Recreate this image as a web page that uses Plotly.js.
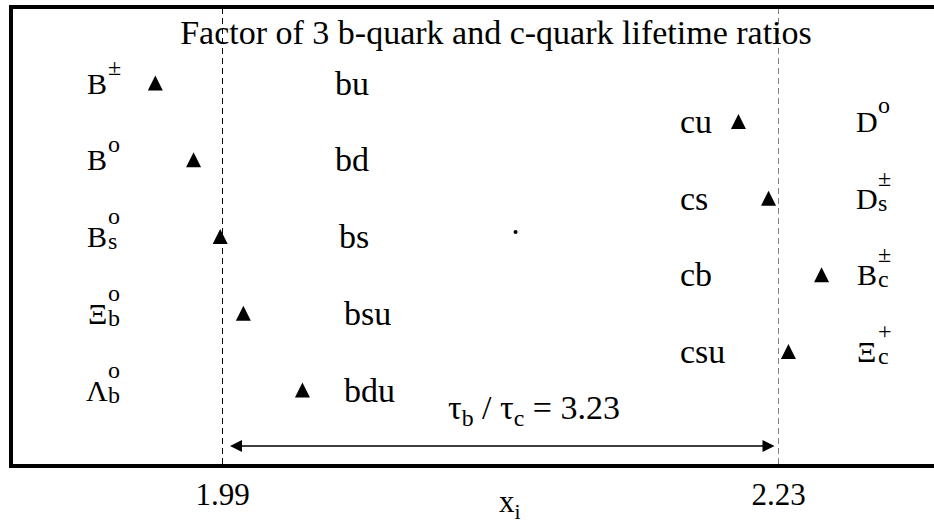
<!DOCTYPE html>
<html><head><meta charset="utf-8">
<script src="https://cdn.plot.ly/plotly-3.0.1.min.js"></script>
<style>html,body{margin:0;padding:0;background:#fff;overflow:hidden}#chart{width:934px;height:523px}</style>
</head><body><div id="chart"></div>
<script>
// b-flavoured hadrons: quark content, hadron symbol parts, x_i value, row
const bQuarks = ['bu', 'bd', 'bs', 'bsu', 'bdu'];
const bHadron = ['B', 'B', 'B', 'Ξ', 'Λ'];
const bHadronSup = ['±', 'o', 'o', 'o', 'o'];
const bHadronSub = ['', '', 's', 'b', 'b'];
const bX = [1.961, 1.9775, 1.989, 1.999, 2.0245];
const bRow = [1, 2, 3, 4, 5];

// c-flavoured hadrons
const cQuarks = ['cu', 'cs', 'cb', 'csu'];
const cHadron = ['D', 'D', 'B', 'Ξ'];
const cHadronSup = ['o', '±', '±', '+'];
const cHadronSub = ['', 's', 'c', 'c'];
const cX = [2.2127, 2.2257, 2.2486, 2.2343];
const cRow = [1.5, 2.5, 3.5, 4.5];

// reference values and their tick labels
const refLines = [1.99, 2.23];
const tickLabels = ['1.99', '2.23'];
const lifetimeRatio = '3.23';

// small speck in the middle of the panel
const speckX = [2.1165];
const speckY = [2.94];

const SERIF = 'Liberation Serif, Times New Roman, serif';
const BLACK = '#000';

// triangles: arrow-down rotated 180deg with standoff = half size gives a centred tall triangle
function triTrace(x, y) {
  return {
    type: 'scatter', mode: 'markers', x: x, y: y,
    marker: {symbol: 'arrow-down', angle: 180, standoff: 7.5, size: 15, color: BLACK, line: {width: 0}},
    hoverinfo: 'skip', showlegend: false, cliponaxis: false
  };
}

const traces = [
  triTrace(bX, bRow),
  triTrace(cX, cRow),
  {type: 'scatter', mode: 'markers', x: speckX, y: speckY,
   marker: {symbol: 'circle', size: 4, color: BLACK}, hoverinfo: 'skip', showlegend: false}
];

const ann = [];
function label(text, x, y, opts) {
  ann.push(Object.assign({
    text: text, x: x, y: y, xref: 'x', yref: 'y', showarrow: false,
    font: {family: SERIF, size: 34, color: BLACK}, xanchor: 'left', yanchor: 'middle'
  }, opts || {}));
}

// quark-content labels
const bQuarkShift = [0, 0, 4, 9, 9];
bQuarks.forEach((q, i) => label(q, 2.0375, bRow[i], {xshift: bQuarkShift[i]}));
cQuarks.forEach((q, i) => label(q, 2.1868, cRow[i]));

// hadron symbols; when both scripts exist they are stacked in one tight two-line block
const big = s => '<span style="font-size:24px">' + s + '</span>';
function hadron(base, sup, sub, x, y) {
  label(base, x, y, {xanchor: 'center', font: {family: SERIF, size: 30, color: BLACK}});
  if (sup && sub) {
    label(big(sup) + '<br>' + big(sub), x, y, {xshift: 9, yshift: 8, align: 'left',
      font: {family: SERIF, size: 19, color: BLACK}});
  } else if (sup) {
    label(sup, x, y, {xshift: 9, yshift: 16, font: {family: SERIF, size: 24, color: BLACK}});
  }
}
bHadron.forEach((h, i) => hadron(h, bHadronSup[i], bHadronSub[i], 1.936, bRow[i]));
cHadron.forEach((h, i) => hadron(h, cHadronSup[i], cHadronSub[i], 2.268, cRow[i]));

// double arrow between the two reference values
ann.push({
  x: refLines[1], y: 5.73, ax: refLines[0], ay: 5.73, xref: 'x', yref: 'y', axref: 'x', ayref: 'y',
  text: '', showarrow: true, arrowside: 'end+start', arrowhead: 2, arrowsize: 1.6, arrowwidth: 1.5,
  arrowcolor: BLACK, standoff: 4, startstandoff: 6
});
label('τ<sub>b</sub> / τ<sub>c</sub> = ' + lifetimeRatio, 2.1245, 5.26, {xanchor: 'center', font: {family: SERIF, size: 34, color: BLACK}});

// axis label
ann.push({text: 'x<sub>i</sub>', xref: 'paper', yref: 'paper', x: (510 - 13) / 921, y: -0.088,
  xanchor: 'center', yanchor: 'middle', showarrow: false, font: {family: SERIF, size: 31, color: BLACK}});

const shapes = refLines.map((v, i) => ({
  type: 'line', xref: 'x', yref: 'paper', x0: v, x1: v, y0: 0, y1: 1, layer: 'below',
  line: {color: i === 0 ? '#000' : '#808080', width: 1, dash: '6px,4px'}
}));

const layout = {
  width: 934, height: 523,
  margin: {l: 13, r: 0, t: 9, b: 59, pad: 0},
  paper_bgcolor: '#fff', plot_bgcolor: '#fff',
  title: {text: 'Factor of 3 b-quark and c-quark lifetime ratios', font: {family: SERIF, size: 34, color: BLACK},
          x: 496 / 934, xanchor: 'center', xref: 'container', y: 1 - 32 / 523, yanchor: 'middle', yref: 'container'},
  xaxis: {range: [1.899568, 2.297122], showgrid: false, zeroline: false, showline: true, mirror: true,
          linecolor: BLACK, linewidth: 4, ticks: '', tickvals: refLines, ticktext: tickLabels,
          tickfont: {family: SERIF, size: 31, color: BLACK}, ticklabelstandoff: 0},
  yaxis: {range: [5.96417, 0.03583], showgrid: false, zeroline: false, showline: true, mirror: false,
          linecolor: BLACK, linewidth: 4, showticklabels: false, ticks: ''},
  shapes: shapes, annotations: ann, showlegend: false
};

Plotly.newPlot('chart', traces, layout, {displayModeBar: false, staticPlot: true});
</script></body></html>
